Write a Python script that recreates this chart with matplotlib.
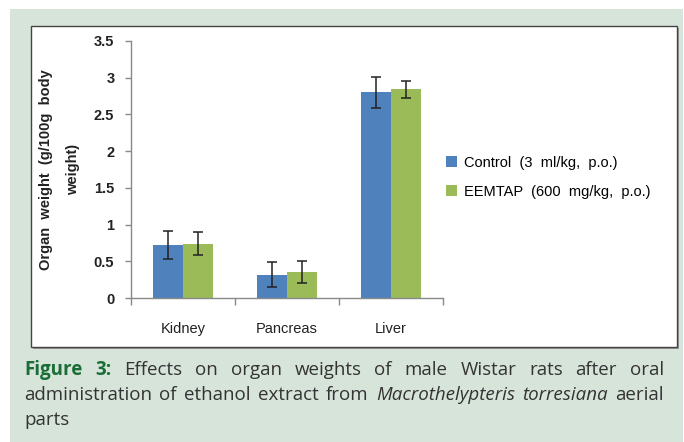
import matplotlib
matplotlib.use("Agg")
import matplotlib.pyplot as plt
import numpy as np
from matplotlib.patches import Rectangle

# data
organs = ["Kidney", "Pancreas", "Liver"]
control = [0.72, 0.32, 2.80]
control_err = [0.19, 0.17, 0.21]
eemtap = [0.74, 0.355, 2.84]
eemtap_err = [0.16, 0.15, 0.12]
series_names = ["Control  (3  ml/kg,  p.o.)", "EEMTAP  (600  mg/kg,  p.o.)"]
yticks = [0, 0.5, 1, 1.5, 2, 2.5, 3, 3.5]
ytick_labels = ["0", "0.5", "1", "1.5", "2", "2.5", "3", "3.5"]

plt.rcParams['font.family'] = ['Liberation Sans', 'DejaVu Sans']

W, H = 684, 442
fig = plt.figure(figsize=(W / 100, H / 100), dpi=100)
fig.patch.set_facecolor("white")

def px(x0, y0, x1, y1):
    # pixel box -> figure fraction (x, y, w, h)
    return x0 / W, 1 - y1 / H, (x1 - x0) / W, (y1 - y0) / H

x, y, w, h = px(10, 9, 683, 442)
fig.patches.append(Rectangle((x, y), w, h, transform=fig.transFigure,
                             facecolor="#d7e4da", edgecolor="none", zorder=0))
x, y, w, h = px(31, 26, 677, 347)
fig.patches.append(Rectangle((x + 1.5 / W, y - 1.5 / H), w, h, transform=fig.transFigure,
                             facecolor="#9a9a9a", edgecolor="none", zorder=0.5))
fig.patches.append(Rectangle((x, y), w, h, transform=fig.transFigure,
                             facecolor="white", edgecolor="#444444", linewidth=1, zorder=1))

ax = fig.add_axes(px(131, 41, 443, 298))
ax.set_zorder(2)
ax.patch.set_alpha(0)

pos = np.arange(len(organs))
bw = 0.284
err_kw = dict(ecolor="#222222", elinewidth=1.1, capsize=3.5, capthick=1.1)
ax.bar(pos - bw / 2, control, bw, yerr=control_err, color="#4f81bd",
       label=series_names[0], error_kw=err_kw)
ax.bar(pos + bw / 2, eemtap, bw, yerr=eemtap_err, color="#9bbb59",
       label=series_names[1], error_kw=err_kw)

ax.set_xlim(-0.5, len(organs) - 0.5)
ax.set_ylim(0, 3.5)
ax.set_yticks(yticks)
ax.set_yticklabels(ytick_labels, fontsize=10.5, fontweight="bold", color="#222222")
ax.set_xticks(pos)
ax.set_xticklabels(organs, fontsize=10.5, color="#222222")
ax.set_xticks(np.arange(len(organs) + 1) - 0.5, minor=True)
ax.tick_params(axis="x", which="major", length=0, pad=17)
ax.tick_params(axis="x", which="minor", length=5, color="#898989", width=1)
ax.tick_params(axis="y", length=4, color="#898989", width=1, pad=8)
for s in ["top", "right"]:
    ax.spines[s].set_visible(False)
for s in ["left", "bottom"]:
    ax.spines[s].set_color("#898989")
    ax.spines[s].set_linewidth(1)

ax.set_ylabel("Organ  weight  (g/100g  body\nweight)", fontsize=10.5,
              fontweight="bold", color="#222222", linespacing=2.2, labelpad=10)

ax.legend(loc="center left", bbox_to_anchor=(0.99, 0.47), frameon=False,
          fontsize=10.5, handlelength=0.75, handleheight=0.75,
          handletextpad=0.5, labelspacing=1.0, borderaxespad=0.0)

# caption, justified
fig.canvas.draw()
renderer = fig.canvas.get_renderer()
cap_font = ['Open Sans', 'DejaVu Sans']
cap_size = 13.5

def word_width(word, **kw):
    t = fig.text(0, 0, word, fontsize=cap_size, family=cap_font, **kw)
    bb = t.get_window_extent(renderer)
    t.remove()
    return bb.width

def caption_line(words, y_px, justify=True, left=24, right=664):
    widths = [word_width(wd, **kw) for wd, kw in words]
    if justify and len(words) > 1:
        gap = (right - left - sum(widths)) / (len(words) - 1)
    else:
        gap = word_width("a")
    xp = left
    for (wd, kw), ww in zip(words, widths):
        fig.text(xp / W, 1 - y_px / H, wd, fontsize=cap_size, family=cap_font,
                 va="baseline", **kw)
        xp += ww + gap

body = dict(color="#333333")
line1 = [("Figure", dict(color="#1a6e35", fontweight="bold")),
         ("3:", dict(color="#1a6e35", fontweight="bold"))]
line1 += [(wd, body) for wd in "Effects on organ weights of male Wistar rats after oral".split()]
line2 = [(wd, body) for wd in "administration of ethanol extract from".split()]
line2 += [(wd, dict(color="#333333", style="italic")) for wd in ["Macrothelypteris", "torresiana"]]
line2 += [("aerial", body)]
line3 = [("parts", body)]

caption_line(line1, 375)
caption_line(line2, 400)
caption_line(line3, 425, justify=False)

fig.savefig("out.png", dpi=100)
